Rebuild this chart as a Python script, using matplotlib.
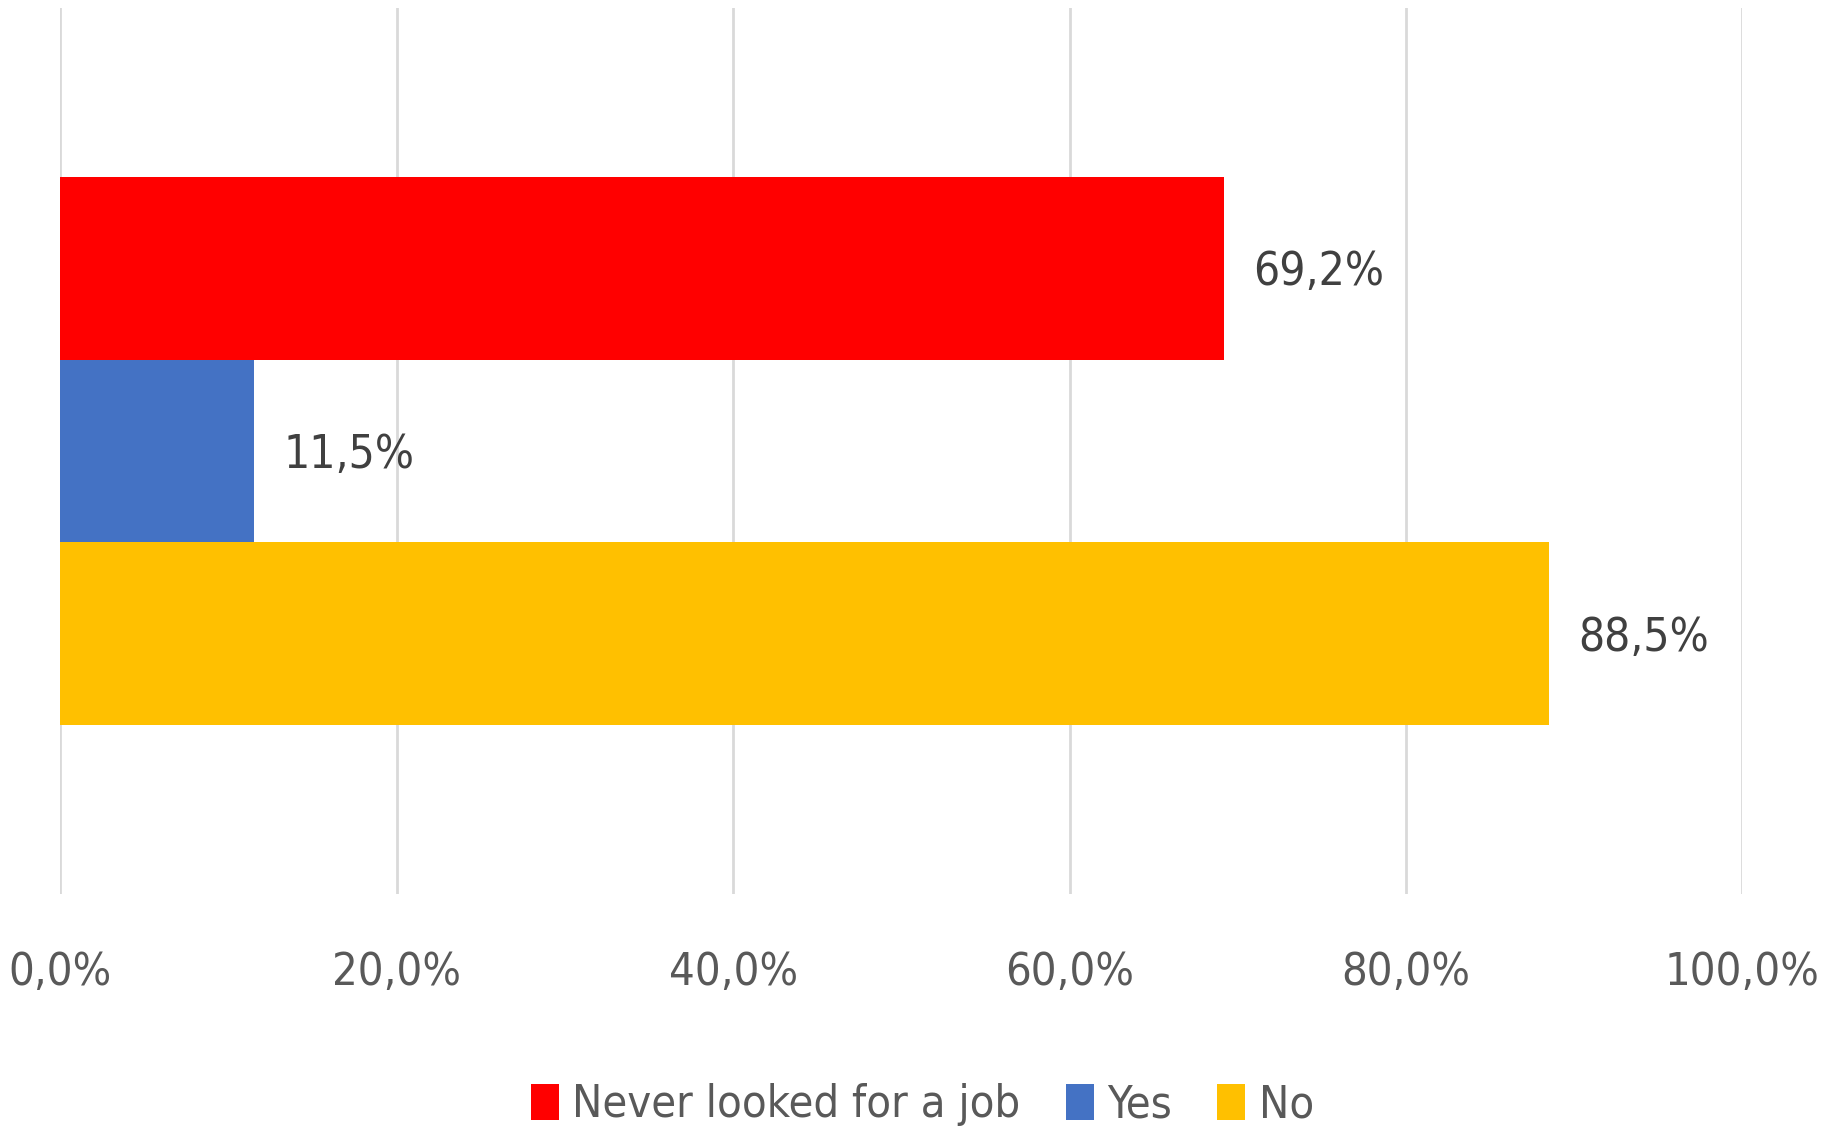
import matplotlib
matplotlib.use("Agg")
import matplotlib.pyplot as plt
from matplotlib.patches import Patch
from matplotlib import font_manager as fm

# Data
series = ["Never looked for a job", "Yes", "No"]
values = [69.2, 11.5, 88.5]
colors = ["#FF0000", "#4472C4", "#FFC000"]
xticks = [0, 20, 40, 60, 80, 100]
xticklabels = ["0,0%", "20,0%", "40,0%", "60,0%", "80,0%", "100,0%"]
labels = ["69,2%", "11,5%", "88,5%"]

# pick a narrow font if one is installed
narrow = None
for f in fm.fontManager.ttflist:
    nm = f.name.lower()
    if ('narrow' in nm or 'condensed' in nm) and 'mono' not in nm and 'serif' not in nm:
        narrow = f.name
        break
    if f.name == 'DejaVu Sans' and 'Condensed' in f.fname:
        narrow = 'DejaVu Sans'
        break
if narrow:
    plt.rcParams['font.family'] = [narrow, 'DejaVu Sans']
    plt.rcParams['font.stretch'] = 'condensed'
    fs = 32.5
else:
    plt.rcParams['font.family'] = ['Liberation Sans', 'DejaVu Sans']
    fs = 30

W, H = 1831, 1128
fig = plt.figure(figsize=(W / 100, H / 100), dpi=100)
ax = fig.add_axes([60.5 / W, (H - 894) / H, (1742.5 - 60.5) / W, 886 / H])

bar_h = 0.2065
for i, (s, v, c, lab) in enumerate(zip(series, values, colors, labels)):
    y = (1 - i) * bar_h  # first series on top
    ax.barh(y, v, height=bar_h, color=c, zorder=3, label=s)
    ax.annotate(lab, xy=(v, y), xytext=(21, -3), textcoords='offset points',
                ha='left', va='center', fontsize=fs + 0.5, color='#404040')

ax.set_xlim(0, 100)
ax.set_ylim(-0.5, 0.5)
ax.set_xticks(xticks)
ax.set_xticklabels(xticklabels, fontsize=fs, color='#595959')
ax.set_yticks([])
ax.tick_params(axis='x', length=0, pad=41)
ax.grid(axis='x', color='#D9D9D9', linewidth=2.0, zorder=0)
for sp in ax.spines.values():
    sp.set_visible(False)

handles = [Patch(facecolor=c, edgecolor='none') for c in colors]
leg = fig.legend(handles, series, loc='center', ncol=3,
                 bbox_to_anchor=(922.5 / W, 1 - 1105 / H),
                 frameon=False, fontsize=fs, handlelength=0.62, handleheight=0.85,
                 handletextpad=0.3, columnspacing=1.0, borderpad=0, borderaxespad=0)
for t in leg.get_texts():
    t.set_color('#595959')

fig.savefig("out.png", dpi=100, facecolor='white')
